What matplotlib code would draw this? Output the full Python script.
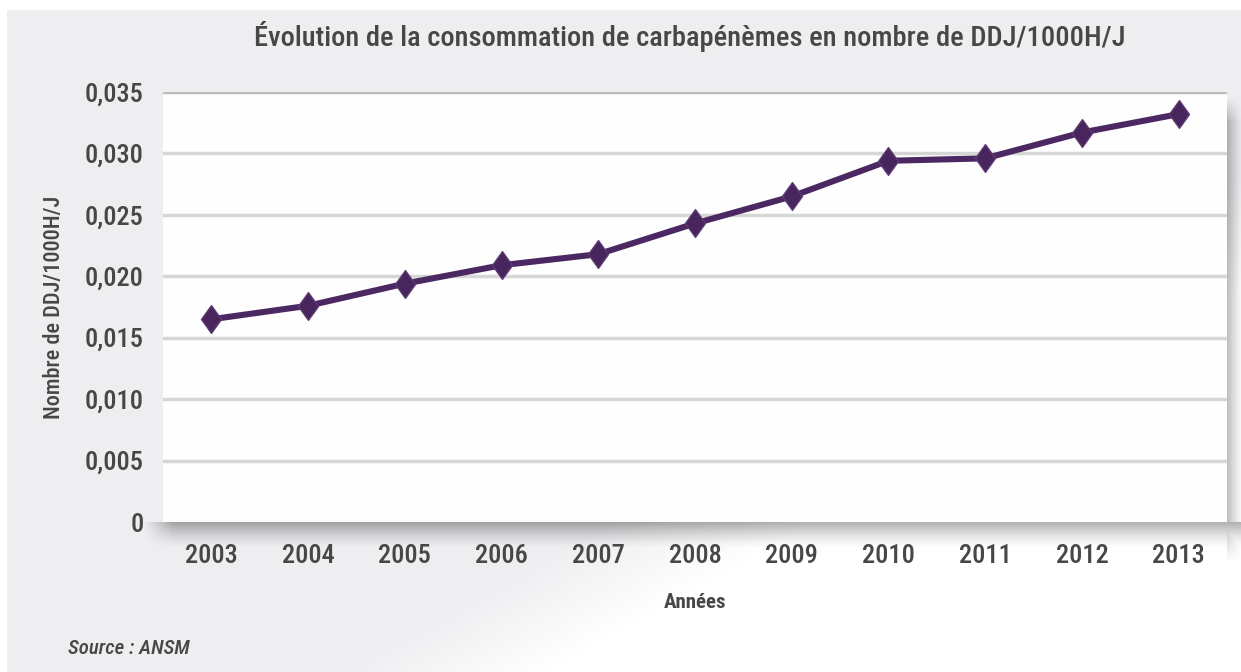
import numpy as np
import matplotlib
matplotlib.use("Agg")
import matplotlib.pyplot as plt
from matplotlib.path import Path

# consumption of carbapenems, DDJ per 1000 hospital days
years = [2003, 2004, 2005, 2006, 2007, 2008, 2009, 2010, 2011, 2012, 2013]
ddj = [0.0165, 0.0176, 0.0194, 0.0209, 0.0218, 0.0243, 0.0265, 0.0294, 0.0296, 0.0317, 0.0332]
yticks = [0, 0.005, 0.010, 0.015, 0.020, 0.025, 0.030, 0.035]
ytick_labels = ["0", "0,005", "0,010", "0,015", "0,020", "0,025", "0,030", "0,035"]

title = "Évolution de la consommation de carbapénèmes en nombre de DDJ/1000H/J"
xlabel = "Années"
ylabel = "Nombre de DDJ/1000H/J"
source = "Source : ANSM"

W, H = 1241, 672
FONT = ["DejaVu Sans Condensed", "Roboto Condensed", "Liberation Sans Narrow", "DejaVu Sans"]
TXT = "#474747"
LINE = "#4b2861"

# plot frame in pixels
left, right, top, bottom = 163, 1227, 92, 522


def background():
    yy, xx = np.mgrid[0:H, 0:W].astype(float)
    img = np.ones((H, W, 3))
    grey = np.array([0.937, 0.935, 0.945])
    fade = np.clip((xx * 0.55 + yy - 860) / 110.0, 0, 1)[..., None]
    panel = grey * (1 - fade) + fade
    inside = (xx >= 7) & (yy >= 10)
    img[inside] = panel[inside]

    # drop shadow under the plot frame
    sh = np.zeros((H, W))
    d = (yy - bottom) / 26.0
    under = (d >= 0) & (d <= 1) & (xx >= left - 20)
    hfade = np.clip((xx - (left - 20)) / 30.0, 0, 1)
    sh[under] = (0.30 * (1 - d[under]) ** 1.4) * hfade[under]
    # shadow on the right side
    dr = (xx - right) / 16.0
    side = (dr >= 0) & (dr <= 1) & (yy >= top + 5)
    vfade = np.clip((yy - top - 5) / 25.0, 0, 1) * np.clip((bottom + 40 - yy) / 40.0, 0, 1)
    sh[side] = np.maximum(sh[side], 0.25 * (1 - dr[side]) ** 1.2 * vfade[side])
    img = img - sh[..., None]
    return np.clip(img, 0, 1)


def draw_chart():
    fig = plt.figure(figsize=(W / 100, H / 100), dpi=100)
    fig.patch.set_facecolor("white")

    bg = fig.add_axes([0, 0, 1, 1], zorder=-1)
    bg.imshow(background(), extent=(0, W, H, 0), aspect="auto", interpolation="bilinear")
    bg.set_xlim(0, W)
    bg.set_ylim(H, 0)
    bg.axis("off")

    ax = fig.add_axes([left / W, 1 - bottom / H, (right - left) / W, (bottom - top) / H])
    ax.set_facecolor("#fefefe")
    for s in ax.spines.values():
        s.set_visible(False)

    ax.set_xlim(2002.5, 2013.5)
    ax.set_ylim(0, 0.035)
    ax.set_yticks(yticks)
    ax.set_yticklabels(ytick_labels)
    ax.set_xticks(years)
    ax.set_xticklabels([str(y) for y in years])
    ax.tick_params(length=0, labelsize=19, labelcolor=TXT)
    ax.tick_params(axis="y", pad=14)
    ax.tick_params(axis="x", pad=16)
    for lab in ax.get_xticklabels() + ax.get_yticklabels():
        lab.set_family(FONT)
        lab.set_fontweight("medium")

    for v in yticks[1:]:
        ax.axhline(v, color="#d6d6d6" if v < 0.035 else "#bdbdbd", lw=2.5, zorder=1)

    diamond = Path([(0, 1), (0.72, 0), (0, -1), (-0.72, 0), (0, 1)],
                   [Path.MOVETO, Path.LINETO, Path.LINETO, Path.LINETO, Path.CLOSEPOLY])
    ax.plot(years, ddj, color=LINE, lw=4.4, marker=diamond, markersize=20,
            markerfacecolor="#48255d", markeredgecolor="#5c3a72", markeredgewidth=1,
            zorder=3, solid_capstyle="round")

    ax.set_xlabel(xlabel, family=FONT, fontsize=15, fontweight="bold", color=TXT, labelpad=18)
    ax.set_ylabel(ylabel, family=FONT, fontsize=16, fontweight="medium", color=TXT, labelpad=14)

    fig.text(690 / W, 1 - 37 / H, title, family=FONT, fontsize=20.5, fontweight="medium",
             color=TXT, ha="center", va="center")
    fig.text(68 / W, 1 - 648 / H, source, family=FONT, fontsize=15, fontweight="medium",
             color=TXT, style="italic", ha="left", va="center")

    fig.savefig("out.png", dpi=100)


if __name__ == "__main__":
    draw_chart()
